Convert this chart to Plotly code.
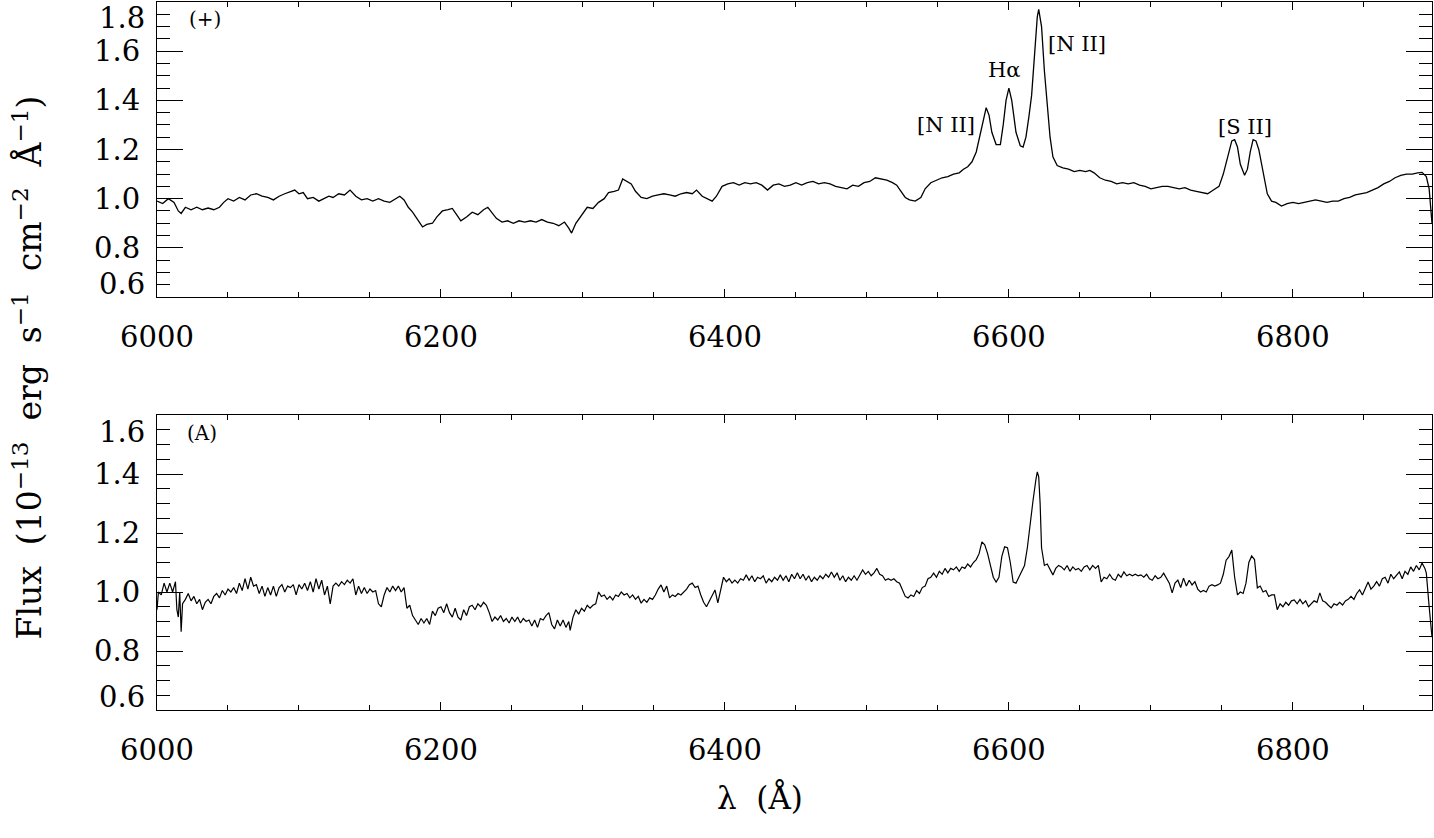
import plotly.graph_objects as go

# ---------------- data ----------------
top_wave = [6000, 6004, 6008, 6012, 6015, 6017, 6020, 6024, 6028, 6032, 6036, 6040, 6044, 6047, 6050,
            6054, 6058, 6062, 6066, 6070, 6074, 6078, 6082, 6086, 6090, 6094, 6097, 6100, 6103, 6106,
            6110, 6114, 6118, 6121, 6124, 6128, 6132, 6136, 6140, 6144, 6148, 6152, 6156, 6160, 6164,
            6168, 6171, 6174, 6177, 6180, 6183, 6187, 6190, 6194, 6197, 6201, 6205, 6208, 6211, 6214,
            6218, 6222, 6226, 6230, 6233, 6236, 6239, 6243, 6247, 6251, 6255, 6259, 6263, 6267, 6271,
            6275, 6279, 6283, 6287, 6290, 6292, 6295, 6299, 6303, 6307, 6311, 6315, 6318, 6322, 6325,
            6328, 6331, 6334, 6337, 6341, 6345, 6349, 6353, 6357, 6361, 6365, 6369, 6373, 6377, 6380,
            6384, 6388, 6391, 6394, 6398, 6402, 6406, 6410, 6414, 6418, 6422, 6426, 6430, 6434, 6438,
            6442, 6446, 6450, 6454, 6458, 6462, 6466, 6470, 6474, 6478, 6482, 6486, 6490, 6494, 6498,
            6502, 6506, 6510, 6514, 6518, 6521, 6524, 6527, 6530, 6534, 6538, 6541, 6545, 6549, 6553,
            6557, 6561, 6565, 6568, 6571, 6574, 6577, 6580, 6582, 6584, 6586, 6588, 6591, 6594, 6596,
            6598, 6600, 6602, 6605, 6608, 6610, 6612, 6614, 6616, 6618, 6620, 6621, 6623, 6625, 6627,
            6629, 6631, 6634, 6638, 6642, 6646, 6650, 6654, 6657, 6660, 6664, 6668, 6672, 6676, 6680,
            6684, 6688, 6692, 6696, 6700, 6704, 6708, 6712, 6716, 6720, 6724, 6728, 6732, 6736, 6740,
            6744, 6748, 6751, 6754, 6757, 6759, 6761, 6763, 6766, 6768, 6770, 6772, 6774, 6776, 6778,
            6780, 6782, 6785, 6788, 6792, 6796, 6800, 6804, 6808, 6812, 6816, 6820, 6824, 6828, 6832,
            6836, 6840, 6844, 6848, 6852, 6856, 6860, 6864, 6868, 6872, 6876, 6880, 6884, 6888, 6891,
            6894, 6896, 6898]
top_flux = [0.99, 0.98, 1.00, 0.985, 0.95, 0.94, 0.965, 0.955, 0.965, 0.955, 0.962, 0.955, 0.965, 0.985, 1.0,
            0.99, 1.005, 0.995, 1.015, 1.02, 1.01, 1.005, 0.995, 1.01, 1.02, 1.03, 1.035, 1.02, 1.025, 1.0,
            1.005, 0.99, 1.0, 1.01, 1.005, 1.02, 1.015, 1.035, 1.01, 0.995, 1.0, 0.99, 1.0, 0.99, 0.985,
            1.0, 1.01, 0.995, 0.965, 0.945, 0.92, 0.885, 0.895, 0.90, 0.925, 0.95, 0.955, 0.96, 0.935, 0.91,
            0.925, 0.945, 0.935, 0.955, 0.965, 0.94, 0.92, 0.905, 0.91, 0.90, 0.91, 0.905, 0.91, 0.905, 0.915,
            0.905, 0.90, 0.89, 0.905, 0.88, 0.86, 0.90, 0.935, 0.965, 0.96, 0.985, 1.0, 1.025, 1.03, 1.035,
            1.08, 1.07, 1.06, 1.03, 1.005, 1.0, 1.01, 1.015, 1.02, 1.015, 1.01, 1.02, 1.025, 1.02, 1.035,
            1.01, 1.0, 0.99, 1.01, 1.05, 1.06, 1.065, 1.055, 1.065, 1.06, 1.065, 1.055, 1.035, 1.055, 1.06,
            1.05, 1.055, 1.065, 1.055, 1.065, 1.07, 1.06, 1.065, 1.06, 1.05, 1.045, 1.04, 1.055, 1.05, 1.065,
            1.07, 1.085, 1.08, 1.075, 1.065, 1.055, 1.03, 1.005, 0.995, 0.99, 1.005, 1.04, 1.065, 1.075, 1.085,
            1.09, 1.10, 1.105, 1.12, 1.13, 1.15, 1.19, 1.27, 1.33, 1.37, 1.34, 1.27, 1.22, 1.22, 1.30,
            1.40, 1.45, 1.40, 1.27, 1.215, 1.21, 1.25, 1.33, 1.42, 1.58, 1.74, 1.77, 1.70, 1.52, 1.38,
            1.25, 1.17, 1.135, 1.125, 1.12, 1.11, 1.115, 1.11, 1.115, 1.105, 1.085, 1.075, 1.07, 1.06, 1.065,
            1.06, 1.065, 1.055, 1.05, 1.04, 1.045, 1.05, 1.05, 1.045, 1.04, 1.045, 1.035, 1.03, 1.025, 1.02,
            1.035, 1.05, 1.10, 1.17, 1.235, 1.24, 1.21, 1.14, 1.095, 1.12, 1.19, 1.24, 1.235, 1.20, 1.14,
            1.07, 1.02, 0.99, 0.985, 0.97, 0.98, 0.985, 0.98, 0.985, 0.99, 0.995, 0.99, 0.985, 0.99, 0.99,
            1.0, 1.005, 1.015, 1.02, 1.025, 1.035, 1.045, 1.06, 1.07, 1.085, 1.095, 1.10, 1.10, 1.105, 1.107,
            1.09, 1.04, 0.90]

bot_wave = [6000, 6001, 6003, 6005, 6007, 6009, 6011, 6013, 6014, 6015, 6016, 6017, 6018, 6020, 6022,
            6024, 6026, 6028, 6030, 6032, 6034, 6036, 6038, 6040, 6042, 6044, 6046, 6048, 6050, 6052,
            6054, 6056, 6058, 6060, 6062, 6064, 6066, 6068, 6070, 6072, 6074, 6076, 6078, 6080, 6082,
            6084, 6086, 6088, 6090, 6092, 6094, 6096, 6098, 6100, 6102, 6104, 6106, 6108, 6110, 6112,
            6114, 6116, 6118, 6120, 6122, 6124, 6126, 6128, 6130, 6132, 6134, 6136, 6138, 6140, 6142,
            6144, 6146, 6148, 6150, 6152, 6154, 6156, 6158, 6160, 6162, 6164, 6166, 6168, 6170, 6172,
            6174, 6176, 6178, 6180, 6182, 6184, 6186, 6188, 6190, 6192, 6194, 6196, 6198, 6200, 6202,
            6204, 6206, 6208, 6210, 6212, 6214, 6216, 6218, 6220, 6222, 6224, 6226, 6228, 6230, 6232,
            6234, 6236, 6238, 6240, 6242, 6244, 6246, 6248, 6250, 6252, 6254, 6256, 6258, 6260, 6262,
            6264, 6266, 6268, 6270, 6272, 6274, 6276, 6278, 6280, 6282, 6284, 6286, 6288, 6290, 6291,
            6293, 6295, 6297, 6299, 6301, 6303, 6305, 6307, 6309, 6311, 6313, 6315, 6317, 6319, 6321,
            6323, 6325, 6327, 6329, 6331, 6333, 6335, 6337, 6339, 6341, 6343, 6345, 6347, 6349, 6351,
            6353, 6355, 6357, 6359, 6361, 6363, 6365, 6367, 6369, 6371, 6373, 6375, 6377, 6379, 6381,
            6383, 6385, 6387, 6389, 6391, 6393, 6395, 6397, 6399, 6401, 6403, 6405, 6407, 6409, 6411,
            6413, 6415, 6417, 6419, 6421, 6423, 6425, 6427, 6429, 6431, 6433, 6435, 6437, 6439, 6441,
            6443, 6445, 6447, 6449, 6451, 6453, 6455, 6457, 6459, 6461, 6463, 6465, 6467, 6469, 6471,
            6473, 6475, 6477, 6479, 6481, 6483, 6485, 6487, 6489, 6491, 6493, 6495, 6497, 6499, 6501,
            6503, 6505, 6507, 6509, 6511, 6513, 6515, 6517, 6519, 6521, 6523, 6525, 6527, 6529, 6531,
            6533, 6535, 6537, 6539, 6541, 6543, 6545, 6547, 6549, 6551, 6553, 6555, 6557, 6559, 6561,
            6563, 6565, 6567, 6569, 6571, 6573, 6575, 6577, 6579, 6581, 6583, 6585, 6587, 6589, 6591,
            6593, 6595, 6597, 6599, 6601, 6603, 6605, 6607, 6609, 6611, 6613, 6615, 6617, 6619, 6620,
            6621, 6622, 6623, 6625, 6627, 6629, 6631, 6633, 6635, 6637, 6639, 6641, 6643, 6645, 6647,
            6649, 6651, 6653, 6655, 6657, 6659, 6661, 6663, 6665, 6667, 6669, 6671, 6673, 6675, 6677,
            6679, 6681, 6683, 6685, 6687, 6689, 6691, 6693, 6695, 6697, 6699, 6701, 6703, 6705, 6707,
            6709, 6711, 6713, 6715, 6717, 6719, 6721, 6723, 6725, 6727, 6729, 6731, 6733, 6735, 6737,
            6739, 6741, 6743, 6745, 6747, 6749, 6751, 6753, 6755, 6757, 6759, 6761, 6763, 6765, 6767,
            6769, 6771, 6773, 6775, 6777, 6779, 6781, 6783, 6785, 6787, 6789, 6791, 6793, 6795, 6797,
            6799, 6801, 6803, 6805, 6807, 6809, 6811, 6813, 6815, 6817, 6819, 6821, 6823, 6825, 6827,
            6829, 6831, 6833, 6835, 6837, 6839, 6841, 6843, 6845, 6847, 6849, 6851, 6853, 6855, 6857,
            6859, 6861, 6863, 6865, 6867, 6869, 6871, 6873, 6875, 6877, 6879, 6881, 6883, 6885, 6887,
            6889, 6891, 6893, 6894, 6896, 6898]
bot_flux = [0.94, 1.00, 0.99, 1.03, 1.00, 1.03, 1.00, 1.035, 0.94, 0.915, 1.00, 0.865, 0.96, 0.975, 0.995,
            0.97, 0.985, 0.96, 0.975, 0.94, 0.965, 0.975, 0.96, 0.985, 0.995, 0.98, 1.005, 0.99, 1.01, 1.0,
            1.015, 0.995, 1.03, 1.005, 1.045, 1.01, 1.05, 1.02, 1.025, 0.995, 1.02, 0.985, 1.015, 0.99, 1.02,
            0.985, 1.015, 1.025, 1.0, 1.02, 1.015, 1.025, 0.99, 1.025, 1.01, 1.03, 1.005, 1.035, 1.0, 1.045,
            1.01, 1.04, 0.99, 1.02, 0.96, 1.02, 1.03, 1.02, 1.035, 1.025, 1.04, 1.03, 1.045, 0.99, 1.02,
            0.995, 1.015, 0.995, 1.01, 1.0, 1.005, 0.96, 0.95, 0.99, 1.015, 1.0, 1.02, 1.005, 1.02, 1.0,
            1.015, 0.945, 0.955, 0.92, 0.905, 0.89, 0.91, 0.895, 0.91, 0.89, 0.935, 0.92, 0.945, 0.95, 0.93,
            0.96, 0.93, 0.915, 0.945, 0.915, 0.905, 0.94, 0.92, 0.95, 0.955, 0.94, 0.96, 0.95, 0.965, 0.955,
            0.93, 0.90, 0.915, 0.905, 0.92, 0.90, 0.91, 0.895, 0.915, 0.90, 0.915, 0.895, 0.91, 0.90, 0.905,
            0.885, 0.905, 0.88, 0.91, 0.905, 0.92, 0.93, 0.89, 0.875, 0.905, 0.885, 0.905, 0.88, 0.90, 0.87,
            0.915, 0.94, 0.925, 0.945, 0.935, 0.955, 0.945, 0.955, 0.96, 1.0, 0.985, 0.99, 0.975, 0.985, 0.973,
            0.99, 0.985, 1.0, 0.99, 0.995, 0.98, 0.99, 0.975, 0.985, 0.962, 0.975, 0.965, 0.98, 0.975, 0.99,
            1.01, 1.024, 1.0, 1.02, 0.98, 0.99, 0.985, 0.995, 0.99, 1.0, 1.01, 1.025, 1.03, 1.015, 1.02,
            0.99, 0.965, 0.95, 0.97, 0.985, 1.007, 0.963, 1.01, 1.05, 1.035, 1.045, 1.03, 1.04, 1.03, 1.045,
            1.04, 1.058, 1.04, 1.055, 1.035, 1.05, 1.045, 1.055, 1.03, 1.045, 1.035, 1.05, 1.04, 1.058, 1.04,
            1.055, 1.035, 1.06, 1.045, 1.065, 1.045, 1.06, 1.04, 1.055, 1.035, 1.05, 1.04, 1.055, 1.045, 1.06,
            1.05, 1.068, 1.05, 1.065, 1.04, 1.055, 1.035, 1.05, 1.04, 1.055, 1.04, 1.06, 1.075, 1.06, 1.07,
            1.055, 1.065, 1.08, 1.06, 1.055, 1.04, 1.045, 1.04, 1.045, 1.035, 1.03, 1.01, 0.985, 0.98, 0.99,
            0.985, 1.005, 0.995, 1.015, 1.02, 1.045, 1.05, 1.064, 1.05, 1.07, 1.06, 1.08, 1.065, 1.08, 1.075,
            1.085, 1.07, 1.085, 1.08, 1.095, 1.085, 1.10, 1.11, 1.13, 1.17, 1.16, 1.13, 1.09, 1.05, 1.034,
            1.05, 1.12, 1.153, 1.15, 1.10, 1.034, 1.03, 1.05, 1.07, 1.09, 1.15, 1.24, 1.31, 1.38, 1.407,
            1.39, 1.30, 1.15, 1.09, 1.095, 1.075, 1.058, 1.08, 1.09, 1.085, 1.075, 1.09, 1.07, 1.085, 1.075,
            1.08, 1.07, 1.085, 1.09, 1.075, 1.09, 1.08, 1.09, 1.034, 1.05, 1.045, 1.06, 1.045, 1.04, 1.06,
            1.05, 1.068, 1.055, 1.06, 1.055, 1.06, 1.055, 1.058, 1.05, 1.06, 1.045, 1.04, 1.055, 1.045, 1.05,
            1.064, 1.045, 1.03, 0.997, 1.03, 1.04, 1.015, 1.047, 1.02, 1.04, 1.024, 1.035, 1.01, 1.0, 1.005,
            1.0, 1.02, 1.025, 1.02, 1.024, 1.03, 1.06, 1.108, 1.12, 1.142, 1.05, 0.99, 1.0, 0.995, 1.03,
            1.10, 1.122, 1.11, 1.014, 1.02, 1.0, 1.005, 0.985, 0.99, 0.99, 0.94, 0.96, 0.95, 0.965, 0.955,
            0.97, 0.973, 0.96, 0.975, 0.96, 0.97, 0.95, 0.96, 0.97, 0.965, 0.997, 0.97, 0.965, 0.955, 0.946,
            0.96, 0.955, 0.965, 0.956, 0.97, 0.975, 0.985, 0.975, 0.995, 1.007, 0.99, 1.01, 1.034, 1.01, 1.02,
            1.035, 1.02, 1.045, 1.05, 1.03, 1.06, 1.045, 1.055, 1.068, 1.045, 1.07, 1.06, 1.085, 1.07, 1.09,
            1.075, 1.098, 1.08, 1.064, 0.95, 0.847]

# emission-line labels in the upper panel: (text, wavelength, flux)
line_labels = ["[N II]", "H\u03b1", "[N II]", "[S II]"]
line_label_wave = [6556, 6597, 6648, 6766]
line_label_flux = [1.30, 1.525, 1.63, 1.29]

panel_labels = ["(+)", "(A)"]
x_range = [6000, 6898]
top_y_range = [0.6, 1.8]
bot_y_range = [0.6, 1.6]
top_ticks = [0.6, 0.8, 1.0, 1.2, 1.4, 1.6, 1.8]
bot_ticks = [0.6, 0.8, 1.0, 1.2, 1.4, 1.6]

# ---------------- figure ----------------
TICKFONT = dict(family="DejaVu Serif", size=29, color="black")
SERIF = "DejaVu Serif"

fig = go.Figure()
fig.add_trace(go.Scatter(x=top_wave, y=top_flux, mode="lines", xaxis="x", yaxis="y",
                         line=dict(color="black", width=1.3), showlegend=False))
fig.add_trace(go.Scatter(x=bot_wave, y=bot_flux, mode="lines", xaxis="x2", yaxis="y2",
                         line=dict(color="black", width=1.2), showlegend=False))


def xaxis_cfg(anchor):
    return dict(anchor=anchor, range=x_range, showgrid=False, zeroline=False,
                showline=True, linecolor="black", linewidth=1.2, mirror="ticks",
                ticks="inside", ticklen=8, tickwidth=1, tickcolor="black",
                tickmode="array", tickvals=[6000, 6200, 6400, 6600, 6800],
                ticktext=["6000", "6200", "6400", "6600", "6800"],
                minor=dict(dtick=50, tick0=6000, ticks="inside", ticklen=5, tickcolor="black"),
                tickfont=TICKFONT, ticklabelstandoff=14)


def yaxis_cfg(anchor, rng, ticks, domain):
    text = [f"{t:.1f}" for t in ticks]
    text[0] = ""
    text[-1] = ""
    return dict(anchor=anchor, domain=domain, range=rng, showgrid=False, zeroline=False,
                showline=True, linecolor="black", linewidth=1.2, mirror="ticks",
                ticks="inside", ticklen=26, tickwidth=1, tickcolor="black",
                tickmode="array", tickvals=ticks, ticktext=text,
                minor=dict(dtick=0.05, tick0=0.6, ticks="inside", ticklen=13, tickcolor="black"),
                tickfont=TICKFONT, ticklabelstandoff=10)


H_AREA = 838 - 2 - 128
fig.update_layout(
    width=1434, height=838,
    margin=dict(l=157, r=2, t=2, b=128),
    paper_bgcolor="white", plot_bgcolor="white",
    xaxis=xaxis_cfg("y"),
    xaxis2=xaxis_cfg("y2"),
    yaxis=yaxis_cfg("x", top_y_range, top_ticks, [1 - 295 / H_AREA, 1]),
    yaxis2=yaxis_cfg("x2", bot_y_range, bot_ticks, [0, 295 / H_AREA]),
)

ann = []
# shifted end tick labels (drawn inward as in the original)
for yref, ticks, sh_top, sh_bot in [("y", top_ticks, -16, 13), ("y2", bot_ticks, -17, 13)]:
    ann.append(dict(xref="paper", yref=yref, x=0, y=ticks[-1], text=f"{ticks[-1]:.1f}",
                    xanchor="right", yanchor="middle", xshift=-10, yshift=sh_top,
                    showarrow=False, font=TICKFONT))
    ann.append(dict(xref="paper", yref=yref, x=0, y=ticks[0], text=f"{ticks[0]:.1f}",
                    xanchor="right", yanchor="middle", xshift=-10, yshift=sh_bot,
                    showarrow=False, font=TICKFONT))

for t, w, f in zip(line_labels, line_label_wave, line_label_flux):
    ann.append(dict(xref="x", yref="y", x=w, y=f, text=t, showarrow=False,
                    font=dict(family=SERIF, size=21, color="black")))

ann.append(dict(xref="x", yref="y", x=6034, y=1.73, text=panel_labels[0], showarrow=False,
                font=dict(family=SERIF, size=20, color="black")))
ann.append(dict(xref="x2", yref="y2", x=6032, y=1.54, text=panel_labels[1], showarrow=False,
                font=dict(family=SERIF, size=20, color="black")))

# axis titles
ann.append(dict(xref="paper", yref="paper", x=(760 - 157) / 1275, y=(710 - 818) / H_AREA,
                text="\u03bb  (\u00c5)", showarrow=False,
                font=dict(family=SERIF, size=31, color="black")))
ann.append(dict(xref="paper", yref="paper", x=(5 - 157) / 1275, y=(710 - 368) / H_AREA,
                text="Flux  (10<sup>\u221213</sup>  erg  s<sup>\u22121</sup>  cm<sup>\u22122</sup>  \u00c5<sup>\u22121</sup>)",
                textangle=-90, showarrow=False,
                font=dict(family=SERIF, size=33, color="black")))

fig.update_layout(annotations=ann)
fig.write_html("out.html")
